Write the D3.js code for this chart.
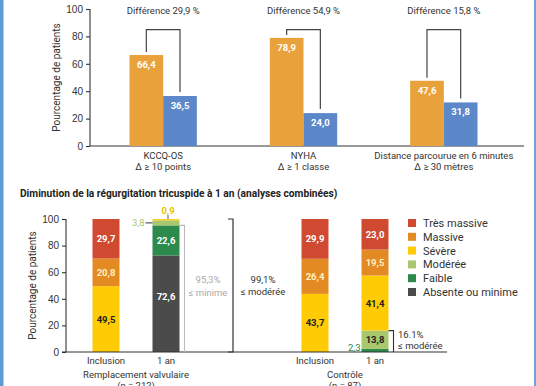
<!DOCTYPE html>
<html>
<head>
<meta charset="utf-8">
<script src="https://cdn.jsdelivr.net/npm/d3@7"></script>
<style>
  body { margin: 0; background: #fff; }
  svg { display: block; font-family: Roboto, "DejaVu Sans", sans-serif; }
  .axis text { font-size: 10px; fill: #333; }
  .axis path, .axis line { stroke: #333; stroke-width: 1.1; }
</style>
</head>
<body>
<div id="vis"></div>
<script>
// --- données graphique du haut
const TOP_CATEGORIES = ["KCCQ-OS", "NYHA", "Distance parcourue en 6 minutes"];
const TOP_SUBLABELS = ["Δ ≥ 10 points", "Δ ≥ 1 classe", "Δ ≥ 30 mètres"];
const TREATED_VALUES = [66.4, 78.9, 47.6];
const CONTROL_VALUES = [36.5, 24.0, 31.8];
const DIFFERENCES = ["29,9", "54,9", "15,8"];
const Y_TICKS = [0, 20, 40, 60, 80, 100];

// --- données graphique du bas (une valeur par barre)
const GROUPS = ["Remplacement valvulaire", "Contrôle"];
const GROUP_N = ["(n = 212)", "(n = 87)"];
const TIMEPOINTS = ["Inclusion", "1 an"];
const LEVELS = ["Très massive", "Massive", "Sévère", "Modérée", "Faible", "Absente ou minime"];
const ABSENTE = [0, 72.6, 0, 0];
const FAIBLE = [0, 22.6, 0, 2.3];
const MODEREE = [0, 3.8, 0, 13.8];
const SEVERE = [49.5, 0.9, 43.7, 41.4];
const MASSIVE = [20.8, 0, 26.4, 19.5];
const TRES_MASSIVE = [29.7, 0, 29.9, 23.0];

const W = 536, H = 386;
const ORANGE = "#E9A23B", BLUE = "#5C87C8";
const LEVEL_COLORS = {
  "Très massive": "#CF4A31",
  "Massive": "#E48A22",
  "Sévère": "#FFCB05",
  "Modérée": "#A9C76C",
  "Faible": "#2B8A4C",
  "Absente ou minime": "#4B4B4B"
};
const fmt = v => d3.format(".1f")(v).replace(".", ",");

const svg = d3.select("#vis").append("svg").attr("width", W).attr("height", H);

// bordures bleues
svg.append("rect").attr("x", 0).attr("y", 0).attr("width", 3.5).attr("height", H).attr("fill", "#5A9BD8");
svg.append("rect").attr("x", 534).attr("y", 0).attr("width", 2).attr("height", H).attr("fill", "#6AA3DA");

drawTop();
drawBottom();

function drawTop() {
  const y = d3.scaleLinear().domain([0, 100]).range([146, 9]);
  const x0 = d3.scaleBand().domain(TOP_CATEGORIES).range([93, 514]).paddingInner(0.52).paddingOuter(0.26);
  const x1 = d3.scaleBand().domain(["t", "c"]).range([0, x0.bandwidth()]);

  svg.append("g").attr("class", "axis").attr("transform", "translate(90,0)")
    .call(d3.axisLeft(y).tickValues(Y_TICKS).tickSize(4).tickSizeOuter(0).tickPadding(3))
    .call(g => g.select(".domain").remove());
  svg.append("line").attr("x1", 90).attr("x2", 90).attr("y1", y(100)).attr("y2", y(0)).attr("stroke", "#333").attr("stroke-width", 1.1);
  svg.append("line").attr("x1", 90).attr("x2", 524).attr("y1", y(0)).attr("y2", y(0)).attr("stroke", "#333").attr("stroke-width", 1.1);

  svg.append("text").attr("transform", `translate(60,${(y(0) + y(100)) / 2}) rotate(-90)`)
    .attr("text-anchor", "middle").attr("font-size", 10).attr("fill", "#333").text("Pourcentage de patients");

  const rows = TOP_CATEGORIES.map((c, i) => ({ c, i, t: TREATED_VALUES[i], k: CONTROL_VALUES[i] }));
  const g = svg.selectAll(".grp").data(rows).enter().append("g").attr("transform", d => `translate(${x0(d.c)},0)`);

  g.append("rect").attr("x", x1("t")).attr("width", x1.bandwidth()).attr("y", d => y(d.t)).attr("height", d => y(0) - y(d.t)).attr("fill", ORANGE);
  g.append("rect").attr("x", x1("c")).attr("width", x1.bandwidth()).attr("y", d => y(d.k)).attr("height", d => y(0) - y(d.k)).attr("fill", BLUE);

  g.append("text").attr("x", x1("t") + x1.bandwidth() / 2).attr("y", d => y(d.t) + 13)
    .attr("text-anchor", "middle").attr("font-size", 9.5).attr("font-weight", "bold").attr("fill", "#fff").text(d => fmt(d.t));
  g.append("text").attr("x", x1("c") + x1.bandwidth() / 2).attr("y", d => y(d.k) + 13)
    .attr("text-anchor", "middle").attr("font-size", 9.5).attr("font-weight", "bold").attr("fill", "#fff").text(d => fmt(d.k));

  // crochets de différence
  const lx = x1("t") + x1.bandwidth() / 2, rx = x1("c") + x1.bandwidth() / 2;
  g.append("path")
    .attr("d", d => `M${lx},${y(d.t) - 3}V${y(85)}H${rx}V${y(d.k) - 4}`)
    .attr("fill", "none").attr("stroke", "#444").attr("stroke-width", 1.2);

  g.append("text").attr("x", x0.bandwidth() / 2).attr("y", 14).attr("text-anchor", "middle")
    .attr("font-size", 9.5).attr("fill", "#333").text(d => `Différence ${DIFFERENCES[d.i]} %`);
  g.append("text").attr("x", x0.bandwidth() / 2).attr("y", 159).attr("text-anchor", "middle")
    .attr("font-size", 9.5).attr("fill", "#333").text(d => d.c);
  g.append("text").attr("x", x0.bandwidth() / 2).attr("y", 170).attr("text-anchor", "middle")
    .attr("font-size", 9.5).attr("fill", "#333").text(d => TOP_SUBLABELS[d.i]);
}

function drawBottom() {
  svg.append("text").attr("x", 20).attr("y", 197).attr("font-size", 10.2).attr("font-weight", "bold")
    .attr("fill", "#222").text("Diminution de la régurgitation tricuspide à 1 an (analyses combinées)");

  const y = d3.scaleLinear().domain([0, 100]).range([352, 219]);
  const xg = d3.scalePoint().domain(GROUPS).range([136, 345]);
  const xt = d3.scalePoint().domain(TIMEPOINTS).range([-30, 30]);
  const bw = 27;

  svg.append("g").attr("class", "axis").attr("transform", "translate(66,0)")
    .call(d3.axisLeft(y).tickValues(Y_TICKS).tickSize(4).tickSizeOuter(0).tickPadding(3))
    .call(g => g.select(".domain").remove());
  svg.append("line").attr("x1", 66).attr("x2", 66).attr("y1", y(100)).attr("y2", y(0)).attr("stroke", "#333").attr("stroke-width", 1.1);

  svg.append("text").attr("transform", `translate(36,${(y(0) + y(100)) / 2}) rotate(-90)`)
    .attr("text-anchor", "middle").attr("font-size", 10).attr("fill", "#333").text("Pourcentage de patients");

  const bars = [];
  GROUPS.forEach(gr => TIMEPOINTS.forEach(tp => bars.push({ gr, tp })));
  const series = { "Absente ou minime": ABSENTE, "Faible": FAIBLE, "Modérée": MODEREE, "Sévère": SEVERE, "Massive": MASSIVE, "Très massive": TRES_MASSIVE };
  const rows = bars.map((b, i) => {
    const r = { ...b };
    LEVELS.forEach(l => r[l] = series[l][i]);
    return r;
  });
  const stack = d3.stack().keys(LEVELS.slice().reverse())(rows);
  const cx = d => xg(d.data.gr) + xt(d.data.tp);

  const layers = svg.selectAll(".layer").data(stack).enter().append("g").attr("fill", s => LEVEL_COLORS[s.key]);
  layers.selectAll("rect").data(s => s.filter(d => d[1] > d[0])).enter().append("rect")
    .attr("x", d => cx(d) - bw / 2).attr("width", bw)
    .attr("y", d => y(d[1])).attr("height", d => y(d[0]) - y(d[1]));

  const labelColor = { "Très massive": "#fff", "Massive": "#FFF1C2", "Sévère": "#222", "Modérée": "#222", "Faible": "#fff", "Absente ou minime": "#fff" };
  layers.each(function (s) {
    d3.select(this).selectAll("text").data(s.filter(d => d[1] - d[0] > 5)).enter().append("text")
      .attr("x", d => cx(d)).attr("y", d => (y(d[0]) + y(d[1])) / 2 + 3.5 - (s.key === "Absente ou minime" ? 7 : 0))
      .attr("text-anchor", "middle").attr("font-size", 9.5).attr("font-weight", "bold")
      .attr("fill", labelColor[s.key]).text(d => fmt(d[1] - d[0]));
  });

  // petites valeurs hors barre
  const rv1 = rows[1], c1 = rows[3];
  const x1 = xg(GROUPS[0]) + xt(TIMEPOINTS[1]);
  const yMod = y(rv1["Absente ou minime"] + rv1["Faible"] + rv1["Modérée"] / 2);
  svg.append("line").attr("x1", x1 - bw / 2 - 7).attr("x2", x1 - bw / 2).attr("y1", yMod).attr("y2", yMod).attr("stroke", "#555").attr("stroke-width", 1.2);
  svg.append("text").attr("x", x1 - bw / 2 - 8).attr("y", yMod + 3.5).attr("text-anchor", "end")
    .attr("font-size", 9.5).attr("fill", "#A9C76C").text(fmt(rv1["Modérée"]));
  svg.append("line").attr("x1", x1 + 2).attr("x2", x1 + 2).attr("y1", y(100) - 4).attr("y2", y(100)).attr("stroke", "#555").attr("stroke-width", 1);
  svg.append("text").attr("x", x1 + 2).attr("y", y(100) - 5).attr("text-anchor", "middle")
    .attr("font-size", 9.5).attr("font-weight", "bold").attr("fill", "#E8C400").text(fmt(rv1["Sévère"]));
  const x2 = xg(GROUPS[1]) + xt(TIMEPOINTS[1]);
  svg.append("text").attr("x", x2 - bw / 2 - 1).attr("y", y(0) - 1).attr("text-anchor", "end")
    .attr("font-size", 9.5).attr("fill", "#2B8A4C").text(fmt(c1["Faible"]));

  // axe horizontal
  svg.append("line").attr("x1", 62).attr("x2", 447).attr("y1", y(0)).attr("y2", y(0)).attr("stroke", "#333").attr("stroke-width", 1.1);

  // accolades
  const minimeTop = rv1["Absente ou minime"] + rv1["Faible"];
  svg.append("path").attr("d", `M${x1 + bw / 2},${y(minimeTop)}H${x1 + bw / 2 + 5}V${y(0)}`)
    .attr("fill", "none").attr("stroke", "#bbb").attr("stroke-width", 1.1);
  svg.append("text").attr("x", 208).attr("y", 283).attr("text-anchor", "middle").attr("font-size", 9.5).attr("fill", "#aaa").text("95,3%");
  svg.append("text").attr("x", 208).attr("y", 296).attr("text-anchor", "middle").attr("font-size", 9.5).attr("fill", "#aaa").text("≤ minime");

  svg.append("path").attr("d", `M228,${y(100)}H233V${y(0)}H228`)
    .attr("fill", "none").attr("stroke", "#333").attr("stroke-width", 1.2);
  svg.append("text").attr("x", 263).attr("y", 283).attr("text-anchor", "middle").attr("font-size", 9.5).attr("fill", "#333").text("99,1%");
  svg.append("text").attr("x", 263).attr("y", 295).attr("text-anchor", "middle").attr("font-size", 9.5).attr("fill", "#333").text("≤ modérée");

  const modTop = c1["Faible"] + c1["Modérée"];
  svg.append("path").attr("d", `M${x2 + bw / 2},${y(modTop)}H${x2 + bw / 2 + 5}V${y(0)}`)
    .attr("fill", "none").attr("stroke", "#333").attr("stroke-width", 1.1);
  svg.append("text").attr("x", 398).attr("y", 338).attr("font-size", 9.5).attr("fill", "#333").text("16.1%");
  svg.append("text").attr("x", 398).attr("y", 349).attr("font-size", 9.5).attr("fill", "#333").text("≤ modérée");

  // étiquettes de catégories
  bars.forEach(b => {
    svg.append("text").attr("x", xg(b.gr) + xt(b.tp)).attr("y", 364).attr("text-anchor", "middle")
      .attr("font-size", 9.5).attr("fill", "#333").text(b.tp);
  });
  GROUPS.forEach((gr, i) => {
    svg.append("text").attr("x", xg(gr)).attr("y", 378).attr("text-anchor", "middle").attr("font-size", 9.5).attr("fill", "#333").text(gr);
    svg.append("text").attr("x", xg(gr)).attr("y", 389).attr("text-anchor", "middle").attr("font-size", 9.5).attr("fill", "#333").text(GROUP_N[i]);
  });

  // légende
  const lg = svg.selectAll(".lg").data(LEVELS).enter().append("g")
    .attr("transform", (d, i) => `translate(408,${223 + i * 13.8})`);
  lg.append("rect").attr("x", 0).attr("y", -4).attr("width", 8).attr("height", 8).attr("fill", d => LEVEL_COLORS[d]);
  lg.append("text").attr("x", 15).attr("y", 4).attr("font-size", 11).attr("fill", "#333").text(d => d);
}
</script>
</body>
</html>
